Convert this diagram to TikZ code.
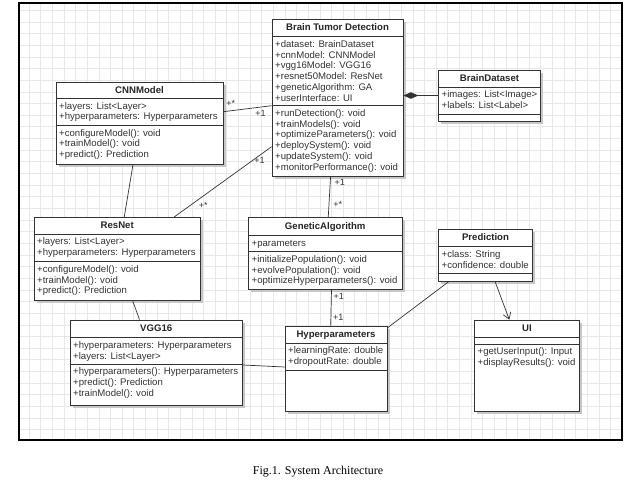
\documentclass[tikz,border=0pt]{standalone}
\usepackage{fontspec}
\setmainfont{Liberation Serif}
\setsansfont{Liberation Sans}
\usetikzlibrary{arrows.meta,positioning}
\tikzset{
  gridline/.style={black!9, line width=0.5pt},
  frame/.style={black, line width=1.2pt},
  shadowbox/.style={fill=black!22},
  classbox/.style={draw=black!80, fill=white, line width=0.8pt, inner sep=0pt},
  classline/.style={black!80, line width=0.8pt},
  classtitle/.style={font=\sffamily\bfseries\fontsize{9.6}{11}\selectfont, text=black!85,
    text height=7pt, text depth=1.5pt, inner sep=0pt},
  members/.style={anchor=north west, align=left, inner xsep=3pt, inner ysep=3.4pt,
    font=\sffamily\fontsize{9.6}{10.8}\selectfont, text=black!80, execute at begin node=\strut},
  mult/.style={font=\sffamily\fontsize{9}{10}\selectfont, text=black!80, inner sep=1pt},
  link/.style={black!80, line width=0.7pt},
  composition/.style={link, -{Diamond[length=15pt, width=6.5pt]}},
  dependency/.style={link, -{Straight Barb[length=6pt, width=8pt]}},
  caption/.style={font=\fontsize{12}{14}\selectfont},
}
% class box: name, left, top, right, bottom, title line, attribute line, title
\newcommand{\umlclass}[8]{%
  \fill[shadowbox] (#2+2.5,#3+2.5) rectangle (#4+2.5,#5+2.5);
  \node[classbox, minimum width={(#4-#2)*1pt}, minimum height={(#5-#3)*1pt}] (#1)
    at ({(#2+#4)/2},{(#3+#5)/2}) {};
  \draw[classline] (#2,#6) -- (#4,#6) (#2,#7) -- (#4,#7);
  \coordinate (#1-attr) at (#2,#6);
  \coordinate (#1-ops) at (#2,#7);
  \node[classtitle] at ({(#2+#4)/2},{(#3+#6)/2}) {#8};
}

\begin{document}
\begin{tikzpicture}[x=1pt, y=-1pt]
  \useasboundingbox (0,0) rectangle (638,485);

  % Background grid
  \foreach \gx in {0,...,50}
    \draw[gridline] ({29+\gx*11.63},3) -- ({29+\gx*11.63},440);
  \foreach \gy in {0,...,36}
    \draw[gridline] (19,{10.2+\gy*11.65}) -- (622,{10.2+\gy*11.65});
  \draw[frame] (19,3) rectangle (622,440);

  % Classes
  \umlclass{btd}{272}{19}{403}{176}{36.7}{105.7}{Brain Tumor Detection}
  \node[members] at (btd-attr) {+dataset: BrainDataset\\+cnnModel: CNNModel\\+vgg16Model: VGG16\\
    +resnet50Model: ResNet\\+geneticAlgorithm: GA\\+userInterface: UI};
  \node[members] at (btd-ops) {+runDetection(): void\\+trainModels(): void\\+optimizeParameters(): void\\
    +deploySystem(): void\\+updateSystem(): void\\+monitorPerformance(): void};

  \umlclass{cnn}{56}{82}{223}{164}{98.5}{125.5}{CNNModel}
  \node[members] at (cnn-attr) {+layers: List<Layer>\\+hyperparameters: Hyperparameters};
  \node[members] at (cnn-ops) {+configureModel(): void\\+trainModel(): void\\+predict(): Prediction};

  \umlclass{bds}{438.5}{70}{540.5}{121}{87.3}{114}{BrainDataset}
  \node[members] at (bds-attr) {+images: List<Image>\\+labels: List<Label>};

  \umlclass{res}{34}{217.5}{200.5}{300}{234}{261.7}{ResNet}
  \node[members] at (res-attr) {+layers: List<Layer>\\+hyperparameters: Hyperparameters};
  \node[members] at (res-ops) {+configureModel(): void\\+trainModel(): void\\+predict(): Prediction};

  \umlclass{ga}{248.5}{217.5}{402}{289}{235}{251.7}{GeneticAlgorithm}
  \node[members] at (ga-attr) {+parameters};
  \node[members] at (ga-ops) {+initializePopulation(): void\\+evolvePopulation(): void\\
    +optimizeHyperparameters(): void};

  \umlclass{pred}{438.5}{229.5}{532.5}{281}{246.7}{273.3}{Prediction}
  \node[members] at (pred-attr) {+class: String\\+confidence: double};

  \umlclass{vgg}{70}{320}{242.5}{405}{337.7}{364.3}{VGG16}
  \node[members] at (vgg-attr) {+hyperparameters: Hyperparameters\\+layers: List<Layer>};
  \node[members] at (vgg-ops) {+hyperparameters(): Hyperparameters\\+predict(): Prediction\\
    +trainModel(): void};

  \umlclass{hyp}{285}{326}{387}{411}{343.3}{370}{Hyperparameters}
  \node[members] at (hyp-attr) {+learningRate: double\\+dropoutRate: double};

  \umlclass{ui}{474.5}{320}{579.5}{411}{337.3}{344.3}{UI}
  \node[members] at (ui-ops) {+getUserInput(): Input\\+displayResults(): void};

  % Associations
  \draw[link] ([yshift=11.3pt]cnn.east) -- node[mult, pos=0.15, above=3pt] {+*}
    node[mult, pos=0.77, below=2pt] {+1} ([yshift=-8.2pt]btd.west);
  \draw[link] ([yshift=-49.2pt]btd.west) -- node[mult, pos=0.2, right=1pt] {+1}
    node[mult, pos=0.83, right=7pt] {+*} ([xshift=56.75pt]res.north);
  \draw[link] ([xshift=-6.9pt]btd.south) -- node[mult, pos=0.15, right=3pt] {+1}
    node[mult, pos=0.68, right=3pt] {+*} ([xshift=3pt]ga.north);
  \draw[composition] (bds.west) -- (bds.west -| btd.east);
  \draw[link] ([xshift=-6.5pt]cnn.south) -- ([xshift=7pt]res.north);
  \draw[link] ([xshift=15.25pt]res.south) -- ([xshift=-16.75pt]vgg.north);
  \draw[link] ([xshift=6.25pt]ga.south) -- node[mult, pos=0.19, right=1pt] {+1}
    node[mult, pos=0.78, right=1pt] {+1} ([xshift=-5.3pt]hyp.north);
  \draw[link] ([xshift=-36.5pt]pred.south) -- ([yshift=-2.3pt]hyp.north east);
  \draw[dependency] ([xshift=9.5pt]pred.south) -- ([xshift=-17.7pt]ui.north);
  \draw[link] ([yshift=-2.5pt]vgg.east) -- ([yshift=1.5pt]hyp.west);

  % Caption
  \node[caption] (cap) at (318,472) {Fig.1. System Architecture};
\end{tikzpicture}
\end{document}
